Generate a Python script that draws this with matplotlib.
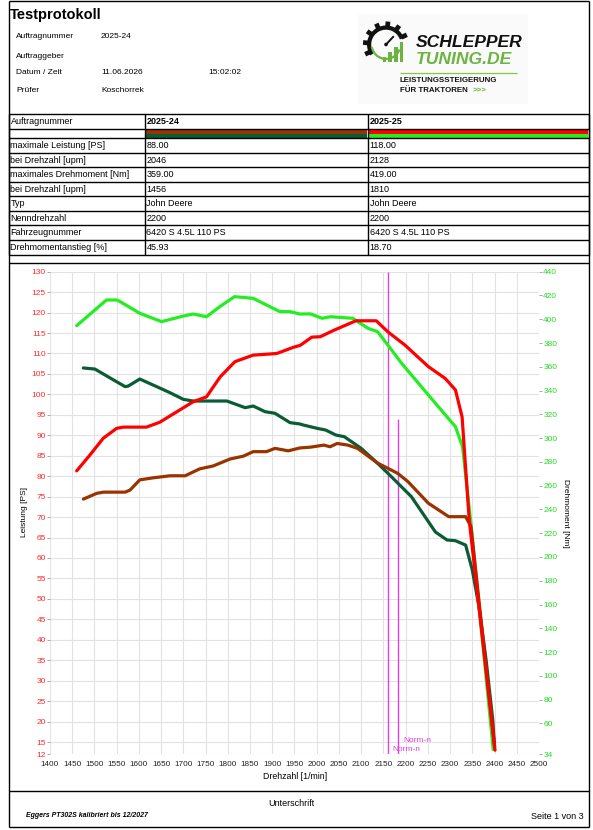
import matplotlib
matplotlib.use('Agg')
import matplotlib.pyplot as plt
from matplotlib.patches import Rectangle, Wedge, Circle
import numpy as np

plt.rcParams['font.family'] = ['Liberation Sans', 'DejaVu Sans']

# ---------------- data ----------------
title = 'Testprotokoll'
header_labels = ['Auftragnummer', 'Auftraggeber', 'Datum / Zeit', 'Prüfer']
header_values = ['2025-24', '', '11.06.2026', 'Koschorrek']
header_time = '15:02:02'

orders = ['2025-24', '2025-25']
row_labels = ['maximale Leistung [PS]', 'bei Drehzahl [upm]', 'maximales Drehmoment [Nm]',
              'bei Drehzahl [upm]', 'Typ', 'Nenndrehzahl', 'Fahrzeugnummer',
              'Drehmomentanstieg [%]']
values_24 = ['88.00', '2046', '359.00', '1456', 'John Deere', '2200',
             '6420 S 4.5L 110 PS', '45.93']
values_25 = ['118.00', '2128', '419.00', '1810', 'John Deere', '2200',
             '6420 S 4.5L 110 PS', '18.70']

# 2025-24 power (PS, left axis)
rpm_power_24 = [1475, 1505, 1520, 1569, 1580, 1602, 1632, 1670, 1704, 1737, 1767,
                1805, 1835, 1857, 1887, 1906, 1936, 1962, 1986, 2016, 2030, 2046,
                2070, 2092, 2137, 2182, 2205, 2251, 2297, 2335, 2347, 2400]
power_24 = [74.4, 75.8, 76.1, 76.1, 76.6, 79.1, 79.6, 80.1, 80.1, 81.8, 82.5,
            84.2, 84.9, 86.0, 86.0, 86.8, 86.2, 86.9, 87.1, 87.6, 87.2, 88.0,
            87.6, 86.8, 83.2, 80.7, 78.7, 73.4, 70.1, 70.1, 67.7, 14.0]

# 2025-24 torque (Nm, right axis)
rpm_torque_24 = [1475, 1501, 1543, 1569, 1576, 1602, 1640, 1670, 1700, 1722, 1798,
                 1839, 1857, 1884, 1906, 1940, 1962, 1970, 2000, 2020, 2043, 2062,
                 2100, 2137, 2168, 2213, 2267, 2293, 2312, 2335, 2350, 2365, 2381,
                 2396, 2400]
torque_24 = [359.0, 358.1, 348.9, 343.3, 343.8, 349.7, 343.3, 338.2, 332.6, 331.2, 331.2,
             325.6, 327.0, 322.2, 320.9, 313.0, 311.9, 311.0, 308.3, 306.8, 302.6, 301.2,
             291.4, 278.8, 267.5, 250.7, 221.0, 214.3, 213.7, 210.0, 189.0, 158.2, 113.3,
             62.9, 40.0]

# 2025-25 power (PS, left axis)
rpm_power_25 = [1460, 1490, 1520, 1550, 1565, 1617, 1647, 1677, 1722, 1752, 1783,
                1816, 1857, 1910, 1925, 1947, 1963, 1989, 2008, 2039, 2088, 2134,
                2160, 2198, 2251, 2289, 2312, 2327, 2343, 2401]
power_25 = [81.3, 85.2, 89.3, 91.7, 92.0, 92.0, 93.2, 95.2, 98.2, 99.4, 104.3,
            108.0, 109.6, 110.0, 110.6, 111.5, 112.0, 114.0, 114.1, 115.7, 118.0, 118.0,
            115.3, 112.1, 106.8, 103.9, 101.1, 94.5, 69.3, 13.0]

# 2025-25 torque (Nm, right axis)
rpm_torque_25 = [1460, 1527, 1550, 1557, 1602, 1651, 1700, 1722, 1752, 1782, 1815,
                 1857, 1887, 1917, 1940, 1962, 1986, 2012, 2031, 2081, 2115, 2137,
                 2160, 2191, 2229, 2267, 2312, 2328, 2346, 2397]
torque_25 = [394.6, 416.2, 416.2, 415.0, 405.0, 398.0, 402.7, 404.4, 402.1, 410.6, 419.0,
             417.6, 412.0, 406.4, 406.4, 404.4, 404.5, 400.8, 402.1, 400.8, 392.4, 389.5,
             378.3, 362.9, 346.1, 329.3, 309.6, 292.8, 231.0, 38.0]

norm_rpm = [2160, 2183]
norm_top_ps = [130, 94]
norm_label = 'Norm-n'

x_ticks = list(range(1400, 2501, 50))
ps_ticks = [12] + list(range(15, 131, 5))
nm_ticks = [34] + list(range(60, 441, 20))

# ---------------- style ----------------
C_P24 = '#993300'
C_T24 = '#0A5C36'
C_P25 = '#FF0000'
C_T25 = '#22EE22'
C_NORM = '#E040E0'

W, H, DPI = 593, 830, 100
fig = plt.figure(figsize=(W / DPI, H / DPI), dpi=DPI)
fig.patch.set_facecolor('white')

ov = fig.add_axes([0, 0, 1, 1], zorder=0)
ov.set_xlim(0, W)
ov.set_ylim(H, 0)
ov.axis('off')


def hl(y, x0, x1, lw=1.0, c='black'):
    ov.plot([x0, x1], [y, y], color=c, lw=lw, solid_capstyle='butt')


def vl(x, y0, y1, lw=1.0, c='black'):
    ov.plot([x, x], [y0, y1], color=c, lw=lw, solid_capstyle='butt')


L, R = 8.5, 588.5
TOP, BOT = 1.5, 826.5
# outer frame
hl(TOP, L, R)
hl(BOT, L, R)
vl(L, TOP, BOT)
vl(R, TOP, BOT)

# ---------------- header ----------------
ov.text(10, 15, title, fontsize=10.5, fontweight='bold', va='center', ha='left')
hy = [37, 56, 73, 91]
for lab, val, y in zip(header_labels, header_values, hy):
    ov.text(16, y, lab, fontsize=6, va='center', ha='left')
    ov.text(101, y, val, fontsize=6, va='center', ha='left')
ov.text(208, hy[2], header_time, fontsize=6, va='center', ha='left')

# ---------------- logo ----------------
ov.add_patch(Rectangle((358, 14), 170, 90, facecolor='#FAFAFA', edgecolor='none'))
cx, cy = 386, 44.5
LOGO_G = '#6CB33F'
ov.add_patch(Wedge((cx, cy), 19, 145, 340, width=4.2, facecolor='#111111', edgecolor='none'))
ov.add_patch(Wedge((cx, cy), 15.5, 20, 170, width=2.2, facecolor=LOGO_G, edgecolor='none'))
for a in [25, 55, 85, 115, 145, 175, 205]:
    r = np.deg2rad(a)
    ov.plot([cx + 17 * np.cos(r), cx + 23 * np.cos(r)],
            [cy - 17 * np.sin(r), cy - 23 * np.sin(r)],
            color='#111111', lw=3.4, solid_capstyle='butt')
for bx, btop in zip([382.7, 388.4, 394.1, 399.8], [56.7, 51.7, 46.7, 41.7]):
    ov.add_patch(Rectangle((bx, btop), 3.4, 61.7 - btop, facecolor=LOGO_G, edgecolor='none'))
ov.plot([cx, 393.3], [cy, 36.7], color='#111111', lw=1.4, solid_capstyle='round')
ov.add_patch(Circle((cx, cy), 1.8, facecolor='#111111', edgecolor='none'))
ov.text(415.5, 42.5, 'SCHLEPPER', fontsize=12.6, fontweight='bold', style='italic',
        va='center', ha='left', color='#111111')
ov.text(415.5, 60, 'TUNING.DE', fontsize=12.6, fontweight='bold', style='italic',
        va='center', ha='left', color=LOGO_G)
hl(72.7, 400, 517, lw=0.9, c='#8CC63F')
ov.text(400, 81, 'LEISTUNGSSTEIGERUNG', fontsize=5.7, fontweight='bold',
        va='center', ha='left', color='#111111')
ov.text(400, 91, 'FÜR TRAKTOREN', fontsize=5.7, fontweight='bold',
        va='center', ha='left', color='#111111')
ov.text(473, 91, '>>>', fontsize=5.7, fontweight='bold', va='center', ha='left', color=LOGO_G)

# ---------------- table ----------------
cols = [L, 144.5, 367.5, R]
rows = [114.5, 129.5, 138.5, 153.5, 167.5, 182, 196.5, 211, 225.5, 240, 255.5]
for y in rows:
    hl(y, L, R)
for x in cols:
    vl(x, rows[0], rows[-1])
# colour bars
for (x0, x1), (ca, cb) in zip([(cols[1], cols[2]), (cols[2], cols[3])],
                              [(C_P24, C_T24), (C_P25, C_T25)]):
    ov.add_patch(Rectangle((x0 + 0.5, rows[1] + 0.5), x1 - x0 - 1, 4.2, facecolor=ca, edgecolor='none'))
    ov.add_patch(Rectangle((x0 + 0.5, rows[1] + 4.7), x1 - x0 - 1, rows[2] - rows[1] - 5.2,
                           facecolor=cb, edgecolor='none'))
TS = 6.5
ov.text(cols[0] + 2, (rows[0] + rows[1]) / 2, 'Auftragnummer', fontsize=TS, va='center')
ov.text(cols[1] + 2, (rows[0] + rows[1]) / 2, orders[0], fontsize=TS, va='center', fontweight='bold')
ov.text(cols[2] + 2, (rows[0] + rows[1]) / 2, orders[1], fontsize=TS, va='center', fontweight='bold')
for i, (lab, v1, v2) in enumerate(zip(row_labels, values_24, values_25)):
    yc = (rows[i + 2] + rows[i + 3]) / 2
    ov.text(cols[0] + 2, yc, lab, fontsize=TS, va='center')
    ov.text(cols[1] + 2, yc, v1, fontsize=TS, va='center')
    ov.text(cols[2] + 2, yc, v2, fontsize=TS, va='center')

# chart frame / footer lines
hl(263.5, L, R)
hl(790.5, L, R)

# ---------------- chart ----------------
x0p, x1p = 50.0, 539.0
ytop, ybot = 271.7, 754.3
rect = [x0p / W, 1 - ybot / H, (x1p - x0p) / W, (ybot - ytop) / H]

axg = fig.add_axes(rect, zorder=1)
axg.set_xlim(1400, 2500)
axg.set_ylim(12, 130)
axg.set_xticks(x_ticks)
axg.set_yticks(ps_ticks)
axg.grid(True, color='#E2E2E2', lw=0.8)
for s in axg.spines.values():
    s.set_visible(False)
axg.tick_params(axis='y', length=2.3, width=0.6, color='#999999', labelcolor='#FF2A2A',
                labelsize=6, pad=0.8)
axg.tick_params(axis='x', length=0, labelsize=5.9, labelcolor='#222222', pad=4.5)

for rpm, top in zip(norm_rpm, norm_top_ps):
    axg.plot([rpm, rpm], [12, top], color=C_NORM, lw=1.0, solid_capstyle='butt')
axg.annotate(norm_label, xy=(norm_rpm[0], 12), xytext=(3.4, 3.8), textcoords='offset points',
             fontsize=6, color=C_NORM, ha='left', va='center', annotation_clip=False)
axg.annotate(norm_label, xy=(norm_rpm[1], 12), xytext=(3.8, 9.6), textcoords='offset points',
             fontsize=6, color=C_NORM, ha='left', va='center', annotation_clip=False)

axt = fig.add_axes(rect, zorder=2)
axt.patch.set_visible(False)
axt.set_xlim(1400, 2500)
axt.set_ylim(34, 440)
axt.set_yticks(nm_ticks)
axt.yaxis.tick_right()
axt.xaxis.set_visible(False)
for s in axt.spines.values():
    s.set_visible(False)
axt.tick_params(axis='y', length=2.3, width=0.6, color='#999999', labelcolor='#22DD22',
                labelsize=6, pad=0.8)
lw = 2.3
axt.plot(rpm_torque_24, torque_24, color=C_T24, lw=lw, solid_joinstyle='round', solid_capstyle='round')
axt.plot(rpm_torque_25, torque_25, color=C_T25, lw=lw, solid_joinstyle='round', solid_capstyle='round')

axp = fig.add_axes(rect, zorder=3)
axp.set_xlim(1400, 2500)
axp.set_ylim(12, 130)
axp.set_axis_off()
axp.plot(rpm_power_24, power_24, color=C_P24, lw=lw, solid_joinstyle='round', solid_capstyle='round')
axp.plot(rpm_power_25, power_25, color=C_P25, lw=lw, solid_joinstyle='round', solid_capstyle='round')

# axis labels
ov.text(24, 512, 'Leistung [PS]', rotation=90, ha='center', va='center', fontsize=6)
ov.text(565, 513, 'Drehmoment [Nm]', rotation=270, ha='center', va='center', fontsize=6)
ov.text(295, 776, 'Drehzahl [1/min]', ha='center', va='center', fontsize=6.3)

# ---------------- footer ----------------
ov.text(291, 803, 'Unterschrift', ha='center', va='center', fontsize=6.5)
ov.text(26, 815, 'Eggers PT302S kalibriert bis 12/2027', ha='left', va='center',
        fontsize=5, fontweight='bold', style='italic')
ov.text(584, 816, 'Seite 1 von 3', ha='right', va='center', fontsize=6.5)

fig.savefig('out.png', dpi=DPI)
